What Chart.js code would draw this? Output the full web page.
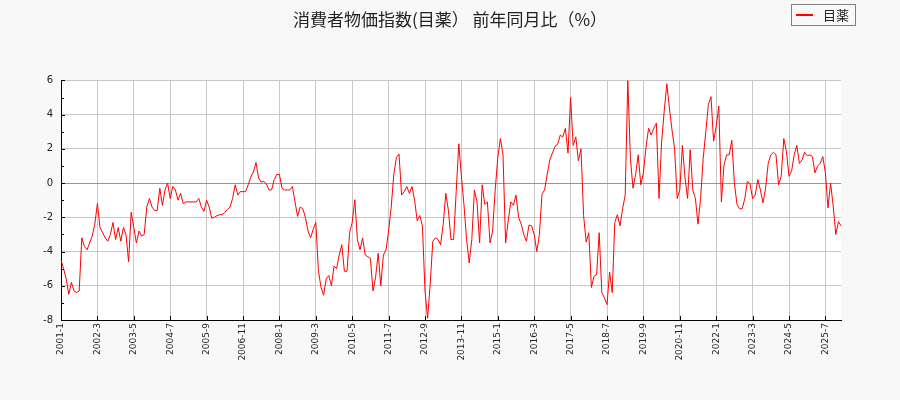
<!DOCTYPE html>
<html>
<head>
<meta charset="utf-8">
<script src="https://cdn.jsdelivr.net/npm/chart.js@4"></script>
<style>
  html, body { margin: 0; padding: 0; background: #f8f8f8; }
  #wrap { width: 900px; height: 400px; }
</style>
</head>
<body>
<div id="wrap"><canvas id="myChart"></canvas></div>
<script>
var titleText = '消費者物価指数(目薬） 前年同月比（%）';
var seriesLabel = '目薬';

// monthly categories, 2001-1 .. 2026-1
var startYear = 2001;
var monthCount = 301;
var months = [];
for (var i = 0; i < monthCount; i++) {
    months.push((startYear + Math.floor(i / 12)) + '-' + (i % 12 + 1));
}
var labelStep = 14;

// year-on-year change (%)
var values = [
    -4.5, -5.0, -5.6, -6.5, -5.8, -6.3, -6.4, -6.3, -3.2, -3.7,
    -3.9, -3.5, -3.1, -2.4, -1.2, -2.6, -2.9, -3.2, -3.4, -3.0,
    -2.3, -3.3, -2.6, -3.4, -2.6, -3.0, -4.6, -1.7, -2.6, -3.5,
    -2.8, -3.1, -3.0, -1.4, -0.9, -1.4, -1.6, -1.6, -0.3, -1.3,
    -0.4, 0.0, -0.9, -0.2, -0.4, -1.0, -0.6, -1.2, -1.1, -1.1,
    -1.1, -1.1, -1.1, -0.9, -1.4, -1.65, -1.0, -1.4, -2.05, -2.0,
    -1.9, -1.85, -1.85, -1.7, -1.55, -1.4, -0.9, -0.1, -0.7, -0.5,
    -0.5, -0.5, -0.1, 0.35, 0.65, 1.2, 0.3, 0.05, 0.1, -0.05,
    -0.4, -0.4, 0.2, 0.5, 0.5, -0.3, -0.4, -0.4, -0.4, -0.2,
    -1.1, -1.95, -1.4, -1.5, -2.0, -2.8, -3.2, -2.7, -2.3, -5.1,
    -6.1, -6.55, -5.6, -5.4, -6.0, -4.85, -5.0, -4.2, -3.6, -5.15,
    -5.15, -2.9, -2.3, -0.97, -3.3, -3.9, -3.2, -4.2, -4.3, -4.4,
    -6.3, -5.5, -4.1, -6.0, -4.2, -3.9, -2.8, -1.4, 0.5, 1.5,
    1.7, -0.7, -0.5, -0.2, -0.6, -0.2, -1.0, -2.2, -1.9, -2.5,
    -6.3, -7.9, -5.9, -3.4, -3.2, -3.3, -3.6, -2.4, -0.6, -1.6,
    -3.3, -3.3, -0.5, 2.3, 0.4, -1.3, -3.3, -4.67, -3.3, -0.4,
    -1.1, -3.5, -0.1, -1.25, -1.1, -3.5, -2.8, -0.4, 1.5, 2.6,
    1.65, -3.5, -2.2, -1.1, -1.3, -0.7, -2.0, -2.4, -3.0, -3.4,
    -2.45, -2.5, -3.0, -4.0, -3.0, -0.65, -0.4, 0.5, 1.35, 1.75,
    2.15, 2.25, 2.8, 2.7, 3.2, 1.75, 5.0, 2.2, 2.7, 1.3,
    2.0, -1.9, -3.45, -2.9, -6.1, -5.45, -5.35, -2.9, -6.4, -6.7,
    -7.1, -5.2, -6.4, -2.3, -1.85, -2.5, -1.5, -0.7, 6.0, 1.45,
    -0.3, 0.5, 1.65, -0.1, 0.6, 2.1, 3.2, 2.8, 3.2, 3.5,
    -0.9, 2.4, 4.2, 5.8, 4.4, 3.1, 2.0, -0.9, -0.4, 2.2,
    0.3, -0.9, 1.95, -0.4, -0.9, -2.4, -0.9, 1.45, 3.0, 4.6,
    5.05, 2.45, 3.3, 4.5, -1.1, 1.05, 1.65, 1.65, 2.5, 0.0,
    -1.25, -1.5, -1.5, -0.9, 0.1, -0.05, -0.9, -0.7, 0.2, -0.4,
    -1.15, -0.3, 1.15, 1.65, 1.8, 1.65, -0.1, 0.4, 2.6, 1.85,
    0.4, 0.7, 1.65, 2.2, 1.15, 1.35, 1.8, 1.6, 1.65, 1.55,
    0.6, 1.0, 1.15, 1.55, 0.6, -1.45, 0.0, -1.35, -3.0, -2.25,
    -2.5
];

var yMin = -8;
var yMax = 6;

var gridGray = '#c8c8c8';
var zeroGreen = '#00ff00';
var textColor = '#222222';
var cjkFont = '"Noto Sans CJK JP", "Noto Sans", sans-serif';
var tickFont = '"DejaVu Sans", sans-serif';

var backgroundPlugin = {
    id: 'background',
    beforeDraw: function (chart) {
        var c = chart.ctx, a = chart.chartArea;
        c.save();
        c.fillStyle = '#f8f8f8';
        c.fillRect(0, 0, chart.width, chart.height);
        c.fillStyle = '#ffffff';
        c.fillRect(a.left, a.top, a.right - a.left, a.bottom - a.top);
        c.restore();
    }
};

// short tick marks drawn on the inside of the axes
var innerTicksPlugin = {
    id: 'innerTicks',
    afterDraw: function (chart) {
        var c = chart.ctx, a = chart.chartArea;
        var xs = chart.scales.x, ys = chart.scales.y;
        c.save();
        c.strokeStyle = '#000';
        c.lineWidth = 1;
        c.beginPath();
        for (var v = yMin; v <= yMax; v++) {
            var py = Math.round(ys.getPixelForValue(v)) + 0.5;
            c.moveTo(a.left, py);
            c.lineTo(a.left + (v % 2 === 0 ? 4 : 3), py);
        }
        for (var i = 0; i < months.length; i += labelStep) {
            var px = Math.round(xs.getPixelForValue(i)) + 0.5;
            c.moveTo(px, a.bottom);
            c.lineTo(px, a.bottom - 4);
        }
        c.stroke();
        c.restore();
    }
};

// boxed legend at the top right
var boxLegendPlugin = {
    id: 'boxLegend',
    afterDraw: function (chart) {
        var c = chart.ctx;
        var ds = chart.data.datasets[0];
        c.save();
        c.fillStyle = '#f8f8f8';
        c.fillRect(791.5, 4.5, 64, 21);
        c.strokeStyle = '#808080';
        c.lineWidth = 1;
        c.strokeRect(791.5, 4.5, 64, 21);
        c.strokeStyle = ds.borderColor;
        c.lineWidth = 2;
        c.beginPath();
        c.moveTo(796, 15);
        c.lineTo(813, 15);
        c.stroke();
        c.fillStyle = textColor;
        c.font = '13px ' + cjkFont;
        c.textBaseline = 'middle';
        c.fillText(ds.label, 823, 15.5);
        c.restore();
    }
};

var ctx = document.getElementById('myChart');
var myChart = new Chart(ctx, {
    type: 'line',
    data: {
        labels: months,
        datasets: [
            {
                label: seriesLabel,
                data: values,
                borderColor: '#ff0000',
                borderWidth: 1,
                pointRadius: 0,
                tension: 0,
                fill: false,
                yAxisID: 'y'
            }
        ]
    },
    options: {
        responsive: true,
        maintainAspectRatio: false,
        animation: false,
        devicePixelRatio: 1,
        layout: {
            padding: 0
        },
        plugins: {
            title: {
                display: true,
                text: titleText,
                color: textColor,
                font: { family: cjkFont, size: 17, weight: 'normal' },
                padding: { top: 9, bottom: 51 }
            },
            legend: { display: false },
            tooltip: { enabled: false }
        },
        scales: {
            x: {
                offset: false,
                border: { color: '#000', width: 1 },
                grid: {
                    drawTicks: false,
                    color: function (c) {
                        return c.index % labelStep === 0 ? gridGray : 'rgba(0,0,0,0)';
                    }
                },
                ticks: {
                    autoSkip: false,
                    maxRotation: 90,
                    minRotation: 90,
                    padding: 3,
                    color: textColor,
                    font: { family: tickFont, size: 9 },
                    callback: function (v, i) {
                        return i % labelStep === 0 ? months[i] : '';
                    }
                },
                afterFit: function (s) { s.height = 80; }
            },
            y: {
                min: yMin,
                max: yMax,
                border: { color: '#000', width: 1 },
                grid: {
                    drawTicks: false,
                    color: function (c) {
                        var v = c.tick.value;
                        if (v === 0) return zeroGreen;
                        return v % 2 === 0 ? gridGray : 'rgba(0,0,0,0)';
                    }
                },
                ticks: {
                    stepSize: 1,
                    padding: 8,
                    color: textColor,
                    font: { family: tickFont, size: 10 },
                    callback: function (v) {
                        return v % 2 === 0 ? v : '';
                    }
                },
                afterFit: function (s) { s.width = 61; }
            },
            // empty right-hand gutter so the title stays centred on the page
            yRight: {
                position: 'right',
                min: yMin,
                max: yMax,
                grid: { display: false, drawOnChartArea: false },
                border: { display: false },
                ticks: { display: false },
                afterFit: function (s) { s.width = 59; }
            }
        }
    },
    plugins: [backgroundPlugin, innerTicksPlugin, boxLegendPlugin]
});
</script>
</body>
</html>
